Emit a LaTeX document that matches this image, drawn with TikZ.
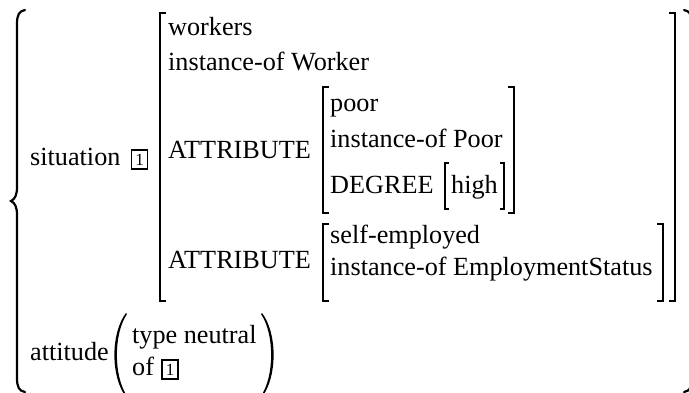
\documentclass[tikz,border=0pt]{standalone}
\usepackage{fontspec}
\setmainfont{Liberation Serif}
\usepackage{tikz}

\begin{document}
\begin{tikzpicture}[x=1pt, y=-1pt,
        font=\fontsize{26.2}{31}\selectfont,
        txt/.style={anchor=base west, inner sep=0pt},
        tagbox/.style={draw, line width=1.8pt, inner sep=0pt, minimum width=16pt,
            minimum height=19pt, anchor=base west, font=\fontsize{17}{17}\selectfont},
        brk/.style={line width=1.3pt},
        brc/.style={line width=2.2pt, line cap=round}]
        \useasboundingbox (0,0) rectangle (689,392);

        % situation
        \node[txt] (sit) at (30,165) {situation};
        \node[tagbox] (tag1) at ([xshift=10pt]sit.base east) {1};
        \node[txt] (wrk) at (168,35) {workers};
        \node[txt] (wrkinst) at (168,70) {instance-of Worker};
        \node[txt] (attr1) at (168,158) {ATTRIBUTE};
        \node[txt] (poor) at (330,111) {poor};
        \node[txt] (poorinst) at (330,147) {instance-of Poor};
        \node[txt] (deg) at (330,193) {DEGREE};
        \node[txt] (high) at (451,193) {high};
        \node[txt] (attr2) at (168,268) {ATTRIBUTE};
        \node[txt] (self) at (330,243) {self-employed};
        \node[txt] (selfinst) at (330,275) {instance-of EmploymentStatus};

        % attitude
        \node[txt] (att) at (30,360) {attitude};
        \node[txt] (typ) at (132,343) {type neutral};
        \node[txt] (of) at (132,375) {of};
        \node[tagbox] (tag2) at ([xshift=7pt]of.base east) {1};

        % brackets
        \draw[brk] (166,13) -| (160,301) -- (166,301);
        \draw[brk] (669,13) -| (675,301) -- (669,301);
        \draw[brk] (329,87) -| (323,213) -- (329,213);
        \draw[brk] (508,87) -| (514,213) -- (508,213);
        \draw[brk] (449,163) -| (445,209) -- (449,209);
        \draw[brk] (500,163) -| (504,209) -- (500,209);
        \draw[brk] (329,224) -| (323,301) -- (329,301);
        \draw[brk] (657,224) -| (663,301) -- (657,301);

        % parentheses
        \fill (126,313) .. controls (110.5,333) and (110.5,377) .. (126,397)
            -- (127,396) .. controls (113.5,376) and (113.5,334) .. (127,314) -- cycle;
        \fill (262,313) .. controls (277.5,333) and (277.5,377) .. (262,397)
            -- (261,396) .. controls (274.5,376) and (274.5,334) .. (261,314) -- cycle;

        % braces
        \draw[brc] (25,10) .. controls (19,11) and (17,15) .. (17,24) -- (17,187)
            .. controls (17,195) and (15,199) .. (11,201)
            .. controls (15,203) and (17,207) .. (17,215) -- (17,378)
            .. controls (17,387) and (19,391) .. (25,392);
        \draw[brc] (684,10) .. controls (690,11) and (692,15) .. (692,24) -- (692,187)
            .. controls (692,195) and (694,199) .. (698,201)
            .. controls (694,203) and (692,207) .. (692,215) -- (692,378)
            .. controls (692,387) and (690,391) .. (684,392);
    \end{tikzpicture}
\end{document}
